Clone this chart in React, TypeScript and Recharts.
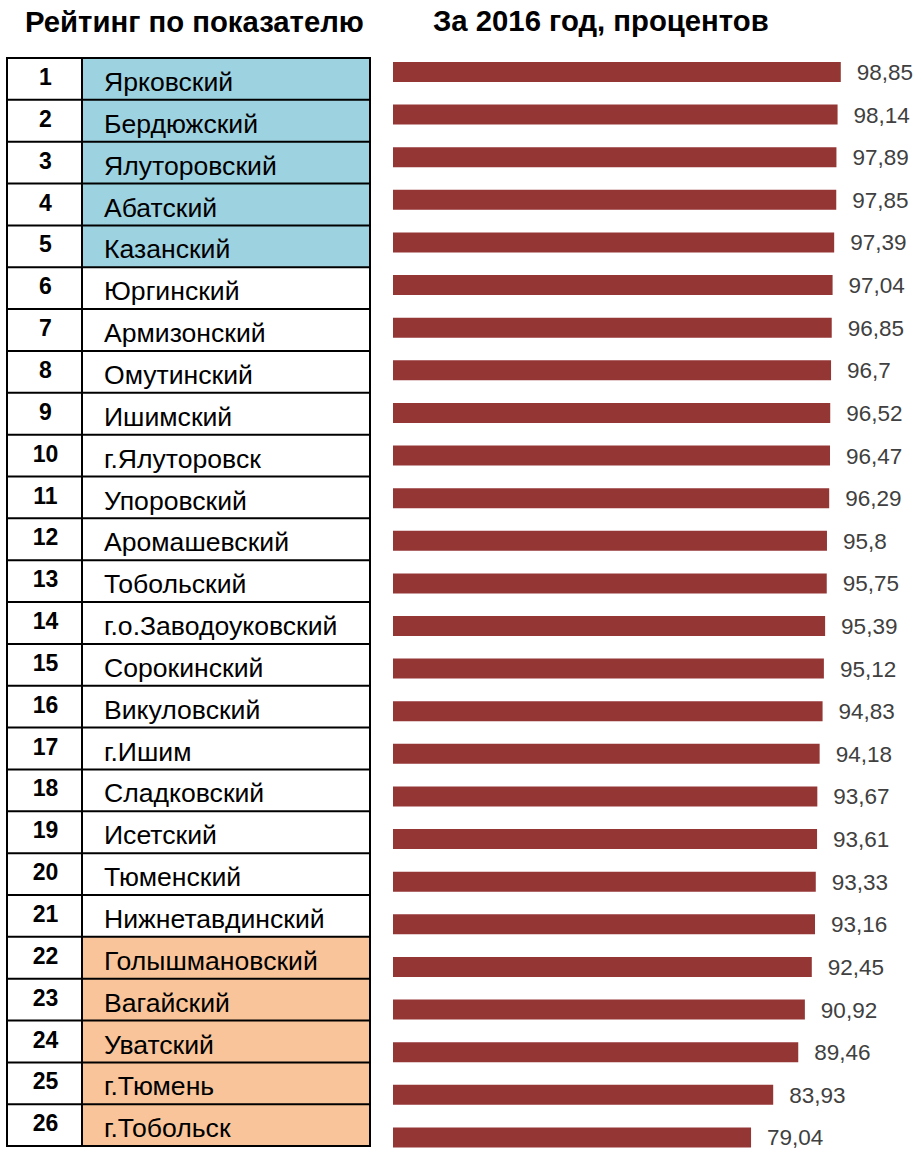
import React from "react";
import { BarChart, Bar, XAxis, YAxis, LabelList } from "recharts";

// районы в порядке рейтинга
const regions = [
  "Ярковский",
  "Бердюжский",
  "Ялуторовский",
  "Абатский",
  "Казанский",
  "Юргинский",
  "Армизонский",
  "Омутинский",
  "Ишимский",
  "г.Ялуторовск",
  "Упоровский",
  "Аромашевский",
  "Тобольский",
  "г.о.Заводоуковский",
  "Сорокинский",
  "Викуловский",
  "г.Ишим",
  "Сладковский",
  "Исетский",
  "Тюменский",
  "Нижнетавдинский",
  "Голышмановский",
  "Вагайский",
  "Уватский",
  "г.Тюмень",
  "г.Тобольск",
];

const values = [
  98.85, 98.14, 97.89, 97.85, 97.39, 97.04, 96.85, 96.7, 96.52, 96.47, 96.29,
  95.8, 95.75, 95.39, 95.12, 94.83, 94.18, 93.67, 93.61, 93.33, 93.16, 92.45,
  90.92, 89.46, 83.93, 79.04,
];

const ranks = regions.map((_, i) => i + 1);

const leftTitle = "Рейтинг по показателю";
const rightTitle = "За 2016 год, процентов";

const FONT = "'Liberation Sans', Arial, sans-serif";
const BAR_COLOR = "#943634";
const LABEL_COLOR = "#404040";
const BLUE = "#9DD2E0";
const ORANGE = "#F9C49A";

const TOP_COUNT = 5;
const BOTTOM_COUNT = 5;

// таблица слева
const TABLE_LEFT = 7;
const TABLE_MID = 82;
const TABLE_RIGHT = 370;
const TABLE_TOP = 58;
const ROW_H = 41.85;

const chartData = regions.map((name, i) => ({ name, value: values[i] }));

const formatValue = (v: any) => String(v).replace(".", ",");

const rowFill = (i: number) => {
  if (i < TOP_COUNT) return BLUE;
  if (i >= regions.length - BOTTOM_COUNT) return ORANGE;
  return "#FFFFFF";
};

const RatingTable: React.FC = () => {
  const bottom = TABLE_TOP + regions.length * ROW_H;
  return (
    <svg
      width={918}
      height={1150}
      style={{ position: "absolute", left: 0, top: 0 }}
    >
      {regions.map((name, i) => {
        const top = TABLE_TOP + i * ROW_H;
        return (
          <g key={name}>
            <rect
              x={TABLE_MID}
              y={top}
              width={TABLE_RIGHT - TABLE_MID}
              height={ROW_H}
              fill={rowFill(i)}
            />
            <text
              x={(TABLE_LEFT + TABLE_MID) / 2 + 1}
              y={top + 19}
              textAnchor="middle"
              dominantBaseline="central"
              fontFamily={FONT}
              fontWeight="bold"
              fontSize={23}
              fill="#000"
            >
              {ranks[i]}
            </text>
            <text
              x={104}
              y={top + 24}
              dominantBaseline="central"
              fontFamily={FONT}
              fontSize={26.6}
              fill="#000"
            >
              {name}
            </text>
          </g>
        );
      })}
      {ranks.concat([0]).map((_, i) => (
        <line
          key={"h" + i}
          x1={TABLE_LEFT - 1}
          x2={TABLE_RIGHT + 1}
          y1={TABLE_TOP + i * ROW_H}
          y2={TABLE_TOP + i * ROW_H}
          stroke="#000"
          strokeWidth={2}
        />
      ))}
      {[TABLE_LEFT, TABLE_MID, TABLE_RIGHT].map((x) => (
        <line
          key={"v" + x}
          x1={x}
          x2={x}
          y1={TABLE_TOP}
          y2={bottom}
          stroke="#000"
          strokeWidth={2}
        />
      ))}
    </svg>
  );
};

export default function App() {
  return (
    <div
      style={{
        position: "absolute",
        left: 0,
        top: 0,
        width: 918,
        height: 1150,
        overflow: "hidden",
        background: "#fff",
        fontFamily: FONT,
      }}
    >
      <div
        style={{
          position: "absolute",
          left: 25,
          top: 5,
          fontSize: 29.3,
          fontWeight: "bold",
          whiteSpace: "nowrap",
          color: "#000",
        }}
      >
        {leftTitle}
      </div>
      <div
        style={{
          position: "absolute",
          left: 433,
          top: 4,
          fontSize: 29.3,
          fontWeight: "bold",
          whiteSpace: "nowrap",
          color: "#000",
        }}
      >
        {rightTitle}
      </div>

      <RatingTable />

      <div style={{ position: "absolute", left: 0, top: 0 }}>
        <BarChart
          width={918}
          height={1160}
          data={chartData}
          layout="vertical"
          margin={{ top: 51, right: 72, bottom: 1, left: 393 }}
          barCategoryGap={0}
        >
          <XAxis type="number" domain={[0, 100]} hide />
          <YAxis type="category" dataKey="name" hide />
          <Bar
            dataKey="value"
            fill={BAR_COLOR}
            barSize={20}
            isAnimationActive={false}
          >
            <LabelList
              dataKey="value"
              position="right"
              offset={16}
              formatter={formatValue}
              fill={LABEL_COLOR}
              fontSize={22.5}
              fontFamily={FONT}
            />
          </Bar>
        </BarChart>
      </div>
    </div>
  );
}
